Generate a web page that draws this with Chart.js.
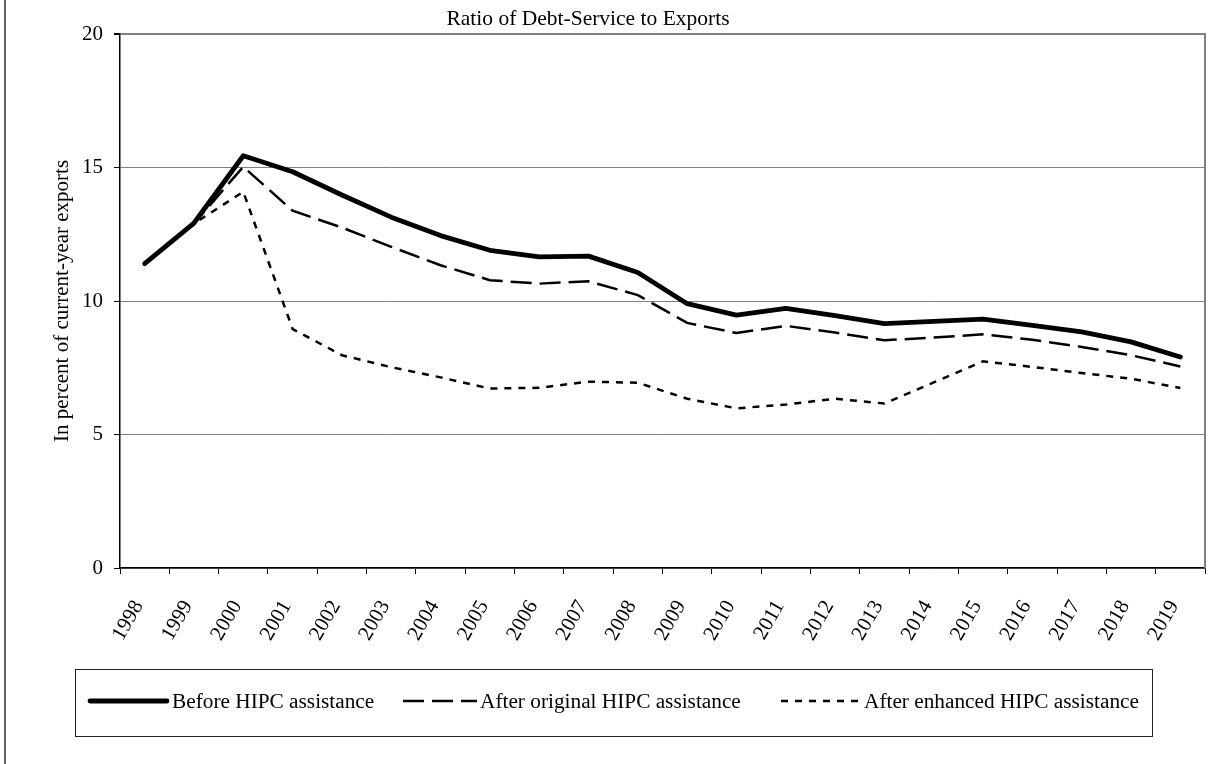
<!DOCTYPE html>
<html>
<head>
<meta charset="utf-8">
<title>Ratio of Debt-Service to Exports</title>
<script src="https://cdn.jsdelivr.net/npm/chart.js@4.4.1/dist/chart.umd.min.js"></script>
<style>
  html, body { margin: 0; padding: 0; background: #ffffff; }
  #wrap { width: 1225px; height: 764px; position: relative; }
  canvas { display: block; }
</style>
</head>
<body>
<div id="wrap"><canvas id="chart" width="1225" height="764"></canvas></div>
<script>
// Fiscal years on the category axis
const years = ['1998', '1999', '2000', '2001', '2002', '2003', '2004', '2005', '2006', '2007', '2008',
               '2009', '2010', '2011', '2012', '2013', '2014', '2015', '2016', '2017', '2018', '2019'];

// Debt service in percent of current-year exports
const beforeHipc = [11.40, 12.92, 15.44, 14.84, 13.97, 13.14, 12.45, 11.90, 11.65, 11.68, 11.07,
                    9.90, 9.47, 9.72, 9.45, 9.15, 9.24, 9.32, 9.09, 8.84, 8.47, 7.90];
const afterOriginal = [11.40, 12.90, 15.03, 13.38, 12.75, 12.03, 11.34, 10.78, 10.65, 10.74, 10.22,
                       9.18, 8.80, 9.07, 8.82, 8.53, 8.63, 8.75, 8.55, 8.28, 7.97, 7.55];
const afterEnhanced = [11.40, 12.90, 14.09, 8.95, 7.97, 7.52, 7.14, 6.72, 6.75, 6.98, 6.94,
                       6.34, 5.98, 6.12, 6.34, 6.16, 6.95, 7.74, 7.53, 7.30, 7.09, 6.74];

const seriesNames = ['Before HIPC assistance', 'After original HIPC assistance', 'After enhanced HIPC assistance'];
const yTicks = [0, 5, 10, 15, 20];
const chartTitle = 'Ratio of Debt-Service to Exports';
const yAxisTitle = 'In percent of current-year exports';

const FONT = "'Liberation Serif', 'Times New Roman', serif";
const GRID_GRAY = '#808080';

// Title, plot frame, outer rule and boxed legend drawn on top of the chart
const decorations = {
  id: 'decorations',
  afterDraw(chart) {
    const ctx = chart.ctx;
    const area = chart.chartArea;
    ctx.save();

    // right edge of the plot frame
    ctx.strokeStyle = GRID_GRAY;
    ctx.lineWidth = 2;
    ctx.beginPath();
    ctx.moveTo(area.right, area.top - 1);
    ctx.lineTo(area.right, area.bottom);
    ctx.stroke();

    // outer rule on the left
    ctx.strokeStyle = '#333333';
    ctx.lineWidth = 1.5;
    ctx.beginPath();
    ctx.moveTo(5, 0);
    ctx.lineTo(5, chart.height);
    ctx.stroke();

    // title
    ctx.fillStyle = '#000';
    ctx.font = '21.5px ' + FONT;
    ctx.textAlign = 'center';
    ctx.textBaseline = 'alphabetic';
    ctx.fillText(chartTitle, 588, 25);

    // legend frame
    ctx.strokeStyle = '#222';
    ctx.lineWidth = 1;
    ctx.strokeRect(75.5, 669.5, 1077, 67);

    // legend entries
    const entries = [
      { x0: 90, x1: 167, tx: 172 },
      { x0: 403, x1: 477, tx: 480 },
      { x0: 781, x1: 859, tx: 864 }
    ];
    const ly = 701;
    chart.data.datasets.forEach((ds, i) => {
      const e = entries[i];
      ctx.save();
      ctx.strokeStyle = ds.borderColor;
      ctx.lineWidth = ds.borderWidth;
      ctx.lineCap = ds.borderCapStyle || 'butt';
      ctx.setLineDash(ds.borderDash || []);
      ctx.beginPath();
      ctx.moveTo(e.x0, ly);
      ctx.lineTo(e.x1, ly);
      ctx.stroke();
      ctx.restore();
      ctx.fillStyle = '#000';
      ctx.font = '21.3px ' + FONT;
      ctx.textAlign = 'left';
      ctx.textBaseline = 'middle';
      ctx.fillText(ds.label, e.tx, ly + 1);
    });

    ctx.restore();
  }
};

new Chart(document.getElementById('chart'), {
  type: 'line',
  data: {
    labels: years,
    datasets: [
      {
        label: seriesNames[0],
        data: beforeHipc,
        borderColor: '#000',
        borderWidth: 4.8,
        borderCapStyle: 'round',
        borderJoinStyle: 'round',
        pointRadius: 0,
        tension: 0,
        fill: false
      },
      {
        label: seriesNames[1],
        data: afterOriginal,
        borderColor: '#000',
        borderWidth: 2.5,
        borderDash: [21, 8],
        pointRadius: 0,
        tension: 0,
        fill: false
      },
      {
        label: seriesNames[2],
        data: afterEnhanced,
        borderColor: '#000',
        borderWidth: 2.5,
        borderDash: [7, 7],
        pointRadius: 0,
        tension: 0,
        fill: false
      }
    ]
  },
  options: {
    responsive: false,
    animation: false,
    devicePixelRatio: 1,
    layout: { padding: { top: 34, right: 20, left: 0, bottom: 0 } },
    plugins: {
      legend: { display: false },
      title: { display: false },
      tooltip: { enabled: false }
    },
    scales: {
      x: {
        type: 'category',
        offset: true,
        afterFit(scale) { scale.height = 196; },
        border: { display: true, color: '#000', width: 1.5 },
        grid: {
          offset: true,
          drawOnChartArea: false,
          drawTicks: true,
          tickLength: 6,
          color: '#000',
          tickColor: '#000',
          lineWidth: 1
        },
        ticks: {
          autoSkip: false,
          minRotation: 60,
          maxRotation: 60,
          labelOffset: -6,
          padding: 22,
          color: '#000',
          font: { family: FONT, size: 21 }
        }
      },
      y: {
        min: 0,
        max: 20,
        afterFit(scale) { scale.width = 120; },
        afterBuildTicks(scale) { scale.ticks = yTicks.map(v => ({ value: v })); },
        border: { display: true, color: '#000', width: 1.5 },
        grid: {
          drawTicks: true,
          tickLength: 6,
          color: GRID_GRAY,
          tickColor: '#000',
          lineWidth: (c) => (c.tick && c.tick.value === 20 ? 2 : 1)
        },
        ticks: {
          padding: 11,
          color: '#000',
          font: { family: FONT, size: 21 }
        },
        title: {
          display: true,
          text: yAxisTitle,
          color: '#000',
          font: { family: FONT, size: 21 },
          padding: { top: 50, bottom: 0 }
        }
      }
    }
  },
  plugins: [decorations]
});
</script>
</body>
</html>
